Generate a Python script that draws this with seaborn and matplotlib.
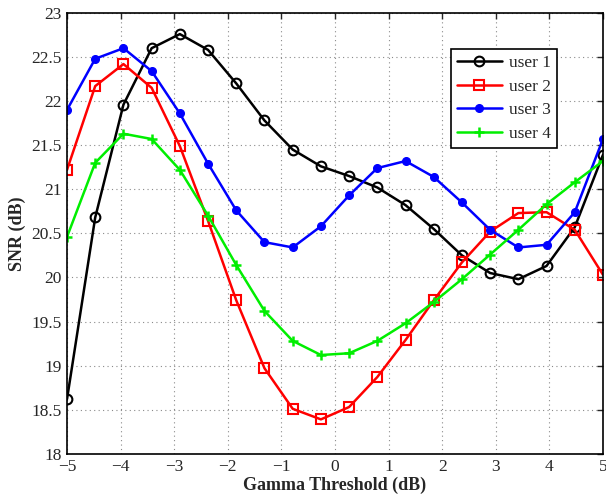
import numpy as np
import pandas as pd
import seaborn as sns
import matplotlib
matplotlib.use("Agg")
import matplotlib.pyplot as plt

gamma = [-5.0, -4.474, -3.947, -3.421, -2.895, -2.368, -1.842, -1.316, -0.789, -0.263,
         0.263, 0.789, 1.316, 1.842, 2.368, 2.895, 3.421, 3.947, 4.474, 5.0]
user1 = [18.62, 20.68, 21.96, 22.60, 22.76, 22.58, 22.20, 21.78, 21.45, 21.26,
         21.15, 21.02, 20.82, 20.55, 20.25, 20.05, 19.98, 20.13, 20.57, 21.39]
user2 = [21.22, 22.17, 22.42, 22.15, 21.49, 20.64, 19.74, 18.97, 18.51, 18.39,
         18.53, 18.87, 19.29, 19.74, 20.17, 20.52, 20.73, 20.74, 20.54, 20.03]
user3 = [21.90, 22.48, 22.60, 22.34, 21.86, 21.29, 20.76, 20.40, 20.34, 20.58,
         20.93, 21.24, 21.32, 21.14, 20.85, 20.54, 20.34, 20.37, 20.74, 21.57]
user4 = [20.46, 21.30, 21.63, 21.57, 21.22, 20.70, 20.14, 19.62, 19.28, 19.12,
         19.14, 19.28, 19.48, 19.72, 19.98, 20.26, 20.54, 20.83, 21.08, 21.32]
labels = ["user 1", "user 2", "user 3", "user 4"]

sns.set_style("white")
plt.rcParams['font.family'] = ['Liberation Serif', 'DejaVu Serif']

fig = plt.figure(figsize=(6.06, 4.97), dpi=100)
ax = fig.add_axes([0.1106, 0.087, 0.8844, 0.887])

styles = [
    dict(color='black', marker='o', mfc='none', mec='black', ms=7, mew=1.5),
    dict(color='red', marker='s', mfc='none', mec='red', ms=7, mew=1.5),
    dict(color='blue', marker='o', mfc='blue', mec='blue', ms=5.5, mew=1.0),
    dict(color='#00ee00', marker='+', mfc='none', mec='#00ee00', ms=7, mew=1.8),
]
for lab, ys, st in zip(labels, [user1, user2, user3, user4], styles):
    df = pd.DataFrame({"gamma": gamma, "snr": ys})
    sns.lineplot(data=df, x="gamma", y="snr", ax=ax, label=lab, lw=1.8, **st)

ax.set_xlim(-5, 5)
ax.set_ylim(18, 23)
ax.set_xticks(np.arange(-5, 6, 1))
ax.set_yticks(np.arange(18, 23.01, 0.5))
ax.set_yticklabels([f"{v:g}" for v in np.arange(18, 23.01, 0.5)])
ax.set_xticklabels([str(v).replace('-', '\u2212') for v in range(-5, 6)])
ax.tick_params(direction='in', top=True, right=True, length=4, width=1, labelsize=12.5, pad=4)
ax.grid(True, linestyle=(0, (1, 3)), color='#8a8a8a', linewidth=0.8)
for s in ax.spines.values():
    s.set_linewidth(1.2)
    s.set_color('black')

ax.set_xlabel("Gamma Threshold (dB)", fontsize=13, fontweight='bold', labelpad=1)
ax.set_ylabel("SNR (dB)", fontsize=13, fontweight='bold', labelpad=4)

leg = ax.legend(loc='upper left', bbox_to_anchor=(0.716, 0.918), fontsize=12.5,
                frameon=True, fancybox=False, edgecolor='black', framealpha=1,
                handlelength=2.6, borderpad=0.35, labelspacing=0.42, handletextpad=0.4,
                borderaxespad=0)
leg.get_frame().set_linewidth(1.2)

fig.savefig("out.png", dpi=100)
